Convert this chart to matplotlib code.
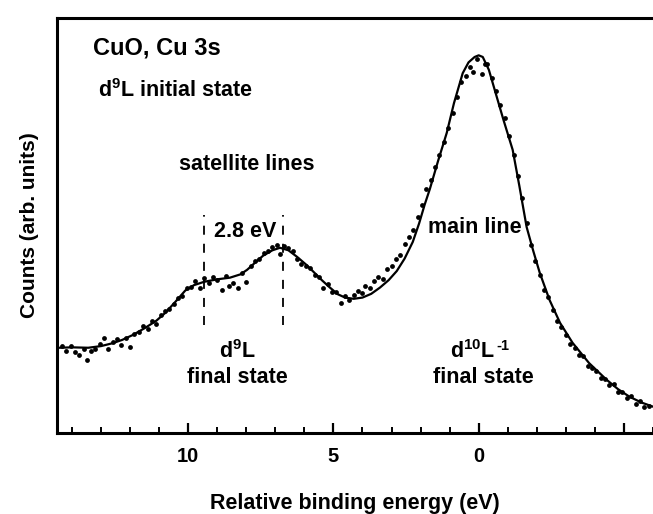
import numpy as np
import matplotlib
matplotlib.use("Agg")
import matplotlib.pyplot as plt
from matplotlib.ticker import MultipleLocator

plt.rcParams['font.family'] = ['Liberation Sans', 'DejaVu Sans']
plt.rcParams['font.weight'] = 'bold'
plt.rcParams['mathtext.fontset'] = 'custom'
plt.rcParams['mathtext.rm'] = 'Liberation Sans:bold'
plt.rcParams['mathtext.default'] = 'rm'

# courbe ajustée (énergie de liaison relative en eV, coups en unités arb.)
fit_energy = [14.45, 14.0, 13.44, 13.0, 12.6, 12.27, 11.9, 11.48, 11.1, 10.79,
              10.45, 10.1, 9.8, 9.45, 9.0, 8.56, 8.2, 7.97, 7.7, 7.42,
              7.1, 6.84, 6.55, 6.25, 5.95, 5.7, 5.4, 5.12, 4.85, 4.6,
              4.3, 4.0, 3.7, 3.4, 3.1, 2.82, 2.55, 2.27, 2.05, 1.86,
              1.68, 1.4, 1.1, 0.85, 0.55, 0.35, 0.14, 0.0, -0.14, -0.35,
              -0.55, -0.85, -1.17, -1.4, -1.65, -1.88, -2.1, -2.44, -2.8, -3.23,
              -3.8, -4.4, -4.8, -5.19, -5.6, -6.0]
fit_counts = [20.5, 20.6, 20.5, 20.9, 21.6, 22.4, 23.6, 25.3, 27.0, 28.9,
              31.5, 34.3, 35.6, 36.4, 37.0, 37.4, 38.2, 39.3, 41.0, 42.7,
              44.0, 44.6, 44.0, 42.4, 40.6, 38.9, 36.8, 35.0, 33.4, 32.6,
              32.3, 32.6, 33.5, 35.0, 36.8, 39.0, 42.0, 46.0, 50.5, 55.0,
              58.8, 65.5, 72.3, 79.5, 86.7, 89.3, 90.6, 91.0, 90.6, 87.5,
              82.7, 75.5, 68.2, 59.5, 49.6, 43.8, 38.6, 32.0, 26.5, 21.7,
              16.8, 12.8, 10.5, 8.7, 7.3, 6.3]

# points mesurés
pts_energy = [14.35, 14.2, 14.05, 13.9, 13.75, 13.6, 13.5, 13.35, 13.2, 13.05,
              12.9, 12.75, 12.6, 12.45, 12.3, 12.15, 12.0, 11.85, 11.7, 11.55,
              11.4, 11.25, 11.1, 10.95, 10.8, 10.65, 10.5, 10.35, 10.2, 10.05,
              9.9, 9.75, 9.6, 9.45, 9.3, 9.15, 9.0, 8.85, 8.7, 8.6,
              8.45, 8.3, 8.15, 8.0, 7.85, 7.7, 7.55, 7.4, 7.25, 7.1,
              6.95, 6.85, 6.7, 6.55, 6.4, 6.25, 6.1, 5.95, 5.8, 5.65,
              5.5, 5.35, 5.2, 5.05, 4.9, 4.75, 4.6, 4.45, 4.3, 4.15,
              4.0, 3.9, 3.75, 3.6, 3.45, 3.3, 3.15, 3.0, 2.85, 2.7,
              2.55, 2.4, 2.25, 2.1, 1.95, 1.8, 1.65, 1.5, 1.35, 1.2,
              1.05, 0.9, 0.75, 0.6, 0.45, 0.3, 0.2, 0.05, -0.1, -0.2,
              -0.3, -0.45, -0.6, -0.75, -0.9, -1.05, -1.2, -1.35, -1.5, -1.65,
              -1.8, -1.95, -2.1, -2.25, -2.4, -2.55, -2.7, -2.85, -3.0, -3.15,
              -3.3, -3.45, -3.6, -3.75, -3.9, -4.05, -4.2, -4.35, -4.5, -4.65,
              -4.8, -4.95, -5.1, -5.25, -5.4, -5.55, -5.7, -5.85]
pts_counts = [21.0, 19.8, 20.9, 19.5, 18.8, 20.2, 17.5, 19.6, 20.3, 21.5,
              22.9, 20.1, 21.8, 22.5, 21.2, 22.9, 20.8, 23.8, 24.2, 25.8,
              25.0, 26.9, 26.2, 28.4, 29.3, 29.8, 31.0, 32.4, 33.0, 34.8,
              35.2, 36.5, 35.0, 37.2, 36.0, 37.5, 36.8, 34.5, 37.8, 35.3,
              36.2, 35.0, 38.5, 36.4, 40.2, 41.4, 41.9, 43.3, 43.8, 44.9,
              45.2, 43.2, 45.0, 44.6, 43.8, 42.0, 40.8, 40.2, 39.8, 38.0,
              37.5, 34.9, 35.9, 34.0, 33.9, 31.4, 33.0, 32.0, 33.3, 34.2,
              33.8, 35.4, 34.8, 36.5, 37.6, 37.0, 39.5, 40.3, 41.8, 42.9,
              45.5, 47.2, 49.0, 52.0, 54.8, 58.7, 61.0, 64.0, 67.0, 70.2,
              73.5, 77.0, 81.0, 84.5, 86.0, 88.2, 87.0, 90.0, 86.5, 88.8,
              89.0, 85.5, 82.5, 79.0, 75.8, 71.5, 67.0, 62.0, 56.5, 50.5,
              45.2, 41.5, 38.0, 34.5, 32.8, 29.6, 27.0, 25.6, 23.5, 21.4,
              20.5, 18.8, 18.6, 16.2, 15.5, 14.8, 13.2, 12.9, 11.5, 11.8,
              9.8, 9.9, 8.3, 8.9, 7.0, 7.6, 6.2, 6.5]

sat_lines = [9.45, 6.75]
tick_pos = [10, 5, 0, -5]
tick_labels = ['10', '5', '0', '']

fig = plt.figure(figsize=(6.53, 5.14), dpi=100)
ax = fig.add_axes([0.088, 0.158, 0.912, 0.807])

ax.plot(fit_energy, fit_counts, color='black', lw=1.6, zorder=3)
ax.scatter(pts_energy, pts_counts, s=12, color='black', zorder=2, linewidths=0)

for e in sat_lines:
    ax.plot([e, e], [26, 52.5], color='black', lw=1.3, dashes=(5, 5))

ax.set_xlim(14.5, -6.0)
ax.set_ylim(0, 100)

for side in ['left', 'bottom', 'top']:
    ax.spines[side].set_linewidth(2.2)
ax.spines['right'].set_visible(False)

ax.set_xticks(tick_pos)
ax.set_xticklabels(tick_labels, fontsize=14.5, fontweight='bold')
ax.xaxis.set_minor_locator(MultipleLocator(1))
ax.tick_params(axis='x', which='major', direction='in', length=7, width=1.6, pad=10)
ax.tick_params(axis='x', which='minor', direction='in', length=4.5, width=1.4)
ax.set_yticks([])

ax.set_xlabel('Relative binding energy (eV)', fontsize=15.5, fontweight='bold', labelpad=20)
ax.set_ylabel('Counts (arb. units)', fontsize=15, fontweight='bold', labelpad=13)

txt = dict(color='black', fontweight='bold')
ax.text(13.26, 92.8, 'CuO, Cu 3s', fontsize=17, ha='left', va='center', **txt)
ax.text(13.09, 82.5, 'd$^{9}$L initial state', fontsize=15.5, ha='left', va='center', **txt)
ax.text(8.0, 64.6, 'satellite lines', fontsize=15.5, ha='center', va='center', **txt)
ax.text(8.05, 48.6, '2.8 eV', fontsize=15.5, ha='center', va='center', **txt)
ax.text(0.15, 49.6, 'main line', fontsize=15.5, ha='center', va='center', **txt)
ax.text(8.3, 19.6, 'd$^{9}$L', fontsize=15.5, ha='center', va='center', **txt)
ax.text(8.3, 13.3, 'final state', fontsize=15.5, ha='center', va='center', **txt)
d10 = ax.text(0.2, 19.6, 'd$^{10}$L', fontsize=15.5, ha='center', va='center', **txt)
ax.annotate('-1', xy=(1.0, 1.0), xycoords=d10, ha='left', va='top',
            fontsize=10.5, fontweight='bold', xytext=(0.5, 0.5), textcoords='offset points')
ax.text(-0.17, 13.3, 'final state', fontsize=15.5, ha='center', va='center', **txt)

fig.savefig('out.png', dpi=100)
